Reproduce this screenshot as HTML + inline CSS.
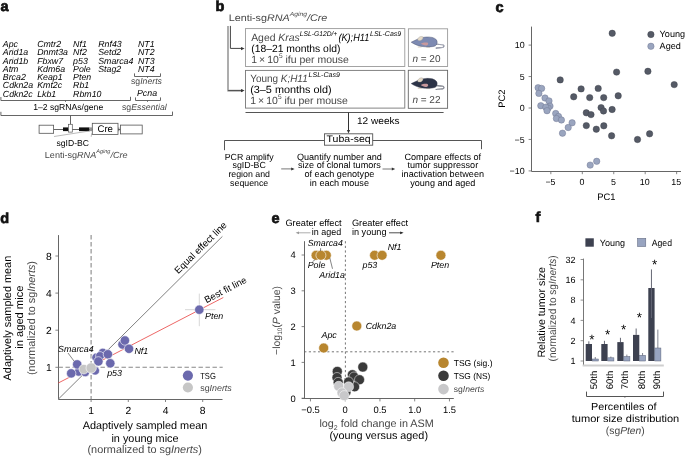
<!DOCTYPE html>
<html><head><meta charset="utf-8"><style>
html,body{margin:0;padding:0;background:#fff;}
svg{display:block;font-family:"Liberation Sans",sans-serif;text-rendering:geometricPrecision;will-change:transform;}
</style></head><body>
<svg width="685" height="456" viewBox="0 0 685 456">
<rect width="685" height="456" fill="#fff"/>
<text x="0.6" y="11" font-size="14.5" font-weight="bold" fill="#111" stroke="#111" stroke-width="0.7">a</text>
<text x="215.5" y="11" font-size="14.5" font-weight="bold" fill="#111" stroke="#111" stroke-width="0.7">b</text>
<text x="495.5" y="12" font-size="14.5" font-weight="bold" fill="#111" stroke="#111" stroke-width="0.7">c</text>
<text x="0.2" y="223" font-size="14.5" font-weight="bold" fill="#111" stroke="#111" stroke-width="0.7">d</text>
<text x="271.5" y="223" font-size="14.5" font-weight="bold" fill="#111" stroke="#111" stroke-width="0.7">e</text>
<text x="535.5" y="222" font-size="14.5" font-weight="bold" fill="#111" stroke="#111" stroke-width="0.7">f</text>
<text x="2.8" y="47" font-size="8.8" font-style="italic">Apc</text>
<text x="2.8" y="55" font-size="8.8" font-style="italic">Arid1a</text>
<text x="2.8" y="64" font-size="8.8" font-style="italic">Arid1b</text>
<text x="2.8" y="72" font-size="8.8" font-style="italic">Atm</text>
<text x="2.8" y="80" font-size="8.8" font-style="italic">Brca2</text>
<text x="2.8" y="88" font-size="8.8" font-style="italic">Cdkn2a</text>
<text x="2.8" y="97" font-size="8.8" font-style="italic">Cdkn2c</text>
<text x="37.2" y="47" font-size="8.8" font-style="italic">Cmtr2</text>
<text x="37.2" y="55" font-size="8.8" font-style="italic">Dnmt3a</text>
<text x="37.2" y="64" font-size="8.8" font-style="italic">Fbxw7</text>
<text x="37.2" y="72" font-size="8.8" font-style="italic">Kdm6a</text>
<text x="37.2" y="80" font-size="8.8" font-style="italic">Keap1</text>
<text x="37.2" y="88" font-size="8.8" font-style="italic">Kmt2c</text>
<text x="37.2" y="97" font-size="8.8" font-style="italic">Lkb1</text>
<text x="73.1" y="47" font-size="8.8" font-style="italic">Nf1</text>
<text x="73.1" y="55" font-size="8.8" font-style="italic">Nf2</text>
<text x="73.1" y="64" font-size="8.8" font-style="italic">p53</text>
<text x="73.1" y="72" font-size="8.8" font-style="italic">Pole</text>
<text x="73.1" y="80" font-size="8.8" font-style="italic">Pten</text>
<text x="73.1" y="88" font-size="8.8" font-style="italic">Rb1</text>
<text x="73.1" y="97" font-size="8.8" font-style="italic">Rbm10</text>
<text x="98.2" y="47" font-size="8.8" font-style="italic">Rnf43</text>
<text x="98.2" y="55" font-size="8.8" font-style="italic">Setd2</text>
<text x="98.2" y="64" font-size="8.8" font-style="italic">Smarca4</text>
<text x="98.2" y="72" font-size="8.8" font-style="italic">Stag2</text>
<text x="138" y="47" font-size="8.8" font-style="italic">NT1</text>
<text x="138" y="55" font-size="8.8" font-style="italic">NT2</text>
<text x="138" y="64" font-size="8.8" font-style="italic">NT3</text>
<text x="138" y="72" font-size="8.8" font-style="italic">NT4</text>
<path d="M134.5,73.4 V76.5 H160.5 V73.4 M147.5,76.5 V77.8" stroke="#555" stroke-width="0.9" fill="none" />
<text x="131" y="84" font-size="8.7" fill="#474747">sg<tspan font-style="italic">Inerts</tspan></text>
<text x="137" y="96" font-size="8.8" font-style="italic">Pcna</text>
<path d="M135.5,97.4 V100.5 H160.5 V97.4 M147.5,100.5 V101.8" stroke="#555" stroke-width="0.9" fill="none" />
<path d="M0.9,97.0 V100.5 H130.5 V96.8 M65.5,100.5 V101.8" stroke="#555" stroke-width="0.9" fill="none" />
<text x="33.2" y="110" font-size="8.6" textLength="70" lengthAdjust="spacingAndGlyphs">1–2 sgRNAs/gene</text>
<text x="122" y="110" font-size="8.7" fill="#474747" textLength="44.7" lengthAdjust="spacingAndGlyphs">sg<tspan font-style="italic">Essential</tspan></text>
<path d="M0.9,111.8 V115.5 H172.5 V111.6 M70.5,115.5 V124.4" stroke="#555" stroke-width="0.9" fill="none" />
<line x1="53.6" y1="129.5" x2="120.4" y2="129.5" stroke="#555" stroke-width="0.9" />
<rect x="39.1" y="125.2" width="14.5" height="8.1" fill="#fff" stroke="#555" stroke-width="0.8"/>
<rect x="120.5" y="125.1" width="21.7" height="8.8" fill="#fff" stroke="#555" stroke-width="0.8"/>
<rect x="63" y="127.4" width="5.5" height="3.7" fill="#111"/>
<rect x="79" y="127.4" width="10.5" height="3.7" fill="#111"/>
<rect x="89.5" y="127.4" width="2.8" height="3.7" fill="#999"/>
<rect x="68.5" y="124.3" width="3.8" height="7.8" fill="#fff" stroke="#555" stroke-width="0.7"/>
<rect x="92.3" y="123.3" width="25.7" height="11.1" fill="#fff" stroke="#555" stroke-width="0.8"/>
<line x1="118.8" y1="127.5" x2="118.8" y2="131.2" stroke="#555" stroke-width="0.8" />
<text x="105.2" y="132" font-size="9.6" text-anchor="middle">Cre</text>
<line x1="54" y1="136.5" x2="90" y2="130.9" stroke="#777" stroke-width="0.5" />
<line x1="91.6" y1="133.4" x2="91.2" y2="136.8" stroke="#777" stroke-width="0.5" />
<text x="56.5" y="146" font-size="8.6" textLength="32.5" lengthAdjust="spacingAndGlyphs">sgID-BC</text>
<text x="44.8" y="158" font-size="8.8" fill="#474747" textLength="82.8" lengthAdjust="spacingAndGlyphs">Lenti-sg<tspan font-style="italic">RNA</tspan><tspan font-style="italic" font-size="5.4" dy="-4.6">Aging</tspan><tspan font-style="italic" dy="4.6">/Cre</tspan></text>
<text x="228.7" y="21" font-size="9.6" fill="#474747" textLength="98.6" lengthAdjust="spacingAndGlyphs">Lenti-sg<tspan font-style="italic">RNA</tspan><tspan font-style="italic" font-size="6" dy="-5">Aging</tspan><tspan font-style="italic" dy="5">/Cre</tspan></text>
<path d="M228.0,25.9 V90.6 H243" stroke="#999" stroke-width="1.6" fill="none" />
<line x1="228.1" y1="90.6" x2="243" y2="90.6" stroke="#444" stroke-width="0.9" />
<path d="M230.4,25.9 V48.4 H243" stroke="#444" stroke-width="1.0" fill="none" />
<path d="M244.6,48.6 l-3.6,-1.6 v3.2 z" fill="#333"/>
<path d="M244.6,90.6 l-3.6,-1.6 v3.2 z" fill="#333"/>
<rect x="245.5" y="28.6" width="159.3" height="37.9" fill="none" stroke="#9a9a9a" stroke-width="0.9"/>
<rect x="245.5" y="70.4" width="159.3" height="37.7" fill="none" stroke="#777" stroke-width="0.9"/>
<rect x="408.4" y="28.8" width="39.2" height="37.7" fill="none" stroke="#9a9a9a" stroke-width="0.9"/>
<rect x="408.3" y="70.3" width="39.3" height="38" fill="none" stroke="#666" stroke-width="0.9"/>
<text x="251.2" y="41" font-size="10.4" fill="#474747">Aged <tspan font-style="italic">Kras</tspan></text>
<text x="299.8" y="36" font-size="6.8" font-style="italic" textLength="37.5" lengthAdjust="spacingAndGlyphs">LSL-G12D/+</text>
<text x="338.4" y="41" font-size="10.4" font-style="italic" textLength="30.9" lengthAdjust="spacingAndGlyphs">(K);H11</text>
<text x="370" y="36" font-size="6.8" font-style="italic" textLength="31.2" lengthAdjust="spacingAndGlyphs">LSL-Cas9</text>
<text x="251.2" y="52" font-size="10.4" textLength="89.2" lengthAdjust="spacingAndGlyphs">(18–21 months old)</text>
<text x="251.2" y="63" font-size="10.4" fill="#474747" textLength="97.7" lengthAdjust="spacingAndGlyphs">1 × 10<tspan font-size="6.5" dy="-5">5</tspan><tspan dy="5"> ifu per mouse</tspan></text>
<text x="250.2" y="82" font-size="10.4" fill="#474747" textLength="57.5" lengthAdjust="spacingAndGlyphs">Young <tspan font-style="italic">K;H11</tspan></text>
<text x="308.6" y="77" font-size="6.8" font-style="italic" textLength="31.2" lengthAdjust="spacingAndGlyphs">LSL-Cas9</text>
<text x="250.2" y="93" font-size="10.4" textLength="81.4" lengthAdjust="spacingAndGlyphs">(3–5 months old)</text>
<text x="250.2" y="104" font-size="10.4" fill="#474747" textLength="97.7" lengthAdjust="spacingAndGlyphs">1 × 10<tspan font-size="6.5" dy="-5">5</tspan><tspan dy="5"> ifu per mouse</tspan></text>
<text x="412.4" y="62" font-size="10" fill="#474747"><tspan font-style="italic">n</tspan> = 20</text>
<text x="412.4" y="103" font-size="10" fill="#474747"><tspan font-style="italic">n</tspan> = 22</text>
<g transform="translate(411.2,42.2)"><path d="M25.2,2.0 C28,2.2 31,2.3 32.3,3.0 C33.2,3.8 32.6,5.2 31.2,5.3 C29,5.5 27,5.4 25,5.9" fill="none" stroke="#4f5570" stroke-width="1.15" stroke-linecap="round"/><path d="M25.2,2.0 C28,2.2 31,2.3 32.3,3.0 C33.2,3.8 32.6,5.2 31.2,5.3 C29,5.5 27,5.4 25,5.9" fill="none" stroke="#f4f4f4" stroke-width="0.55"/><path d="M7,4.8 h3 M15.5,5.0 h3" stroke="#d9cfbd" stroke-width="0.9" fill="none" stroke-linecap="round"/><path d="M0,0 C2,-1.0 4.5,-2.2 6.8,-3.2 C9,-4.2 11.5,-4.9 15,-5.2 C19,-5.4 23,-4.8 25,-2.6 C26.6,-0.8 26.2,2.6 24,3.7 C21,4.9 15.5,4.9 10.8,4.3 C7,3.7 3,2.0 0,0 Z" fill="#7d8ab2" stroke="#4f5570" stroke-width="0.45"/><path d="M6.4,-2.4 C6.6,-4.8 9.5,-6.6 11.6,-5.4 C12.3,-4.4 11.4,-2.2 9.6,-1.7 C8.2,-1.4 7,-1.6 6.4,-2.4 Z" fill="#e4dac8" stroke="#9b9590" stroke-width="0.35"/><path d="M9.6,1.4 C11.5,0.2 15,-0.2 16.6,0.6 C17.4,1.6 17,3.0 15.2,3.3 C13,3.5 11,2.6 9.6,1.4 Z" fill="#c8989c"/></g>
<g transform="translate(411.2,83.6)"><path d="M25.2,2.0 C28,2.2 31,2.3 32.3,3.0 C33.2,3.8 32.6,5.2 31.2,5.3 C29,5.5 27,5.4 25,5.9" fill="none" stroke="#3a3f50" stroke-width="1.15" stroke-linecap="round"/><path d="M25.2,2.0 C28,2.2 31,2.3 32.3,3.0 C33.2,3.8 32.6,5.2 31.2,5.3 C29,5.5 27,5.4 25,5.9" fill="none" stroke="#f4f4f4" stroke-width="0.55"/><path d="M7,4.8 h3 M15.5,5.0 h3" stroke="#d9cfbd" stroke-width="0.9" fill="none" stroke-linecap="round"/><path d="M0,0 C2,-1.0 4.5,-2.2 6.8,-3.2 C9,-4.2 11.5,-4.9 15,-5.2 C19,-5.4 23,-4.8 25,-2.6 C26.6,-0.8 26.2,2.6 24,3.7 C21,4.9 15.5,4.9 10.8,4.3 C7,3.7 3,2.0 0,0 Z" fill="#2c3347" stroke="#3a3f50" stroke-width="0.45"/><path d="M6.4,-2.4 C6.6,-4.8 9.5,-6.6 11.6,-5.4 C12.3,-4.4 11.4,-2.2 9.6,-1.7 C8.2,-1.4 7,-1.6 6.4,-2.4 Z" fill="#e4dac8" stroke="#9b9590" stroke-width="0.35"/><path d="M9.6,1.4 C11.5,0.2 15,-0.2 16.6,0.6 C17.4,1.6 17,3.0 15.2,3.3 C13,3.5 11,2.6 9.6,1.4 Z" fill="#c8989c"/></g>
<line x1="245.5" y1="112.5" x2="443.6" y2="112.5" stroke="#555" stroke-width="1.0" />
<line x1="348.5" y1="112.5" x2="348.5" y2="131.5" stroke="#333" stroke-width="1.0" />
<path d="M348.5,133.6 l-1.6,-3.6 h3.2 z" fill="#333"/>
<text x="357" y="124" font-size="9.6" textLength="42.6" lengthAdjust="spacingAndGlyphs">12 weeks</text>
<path d="M224.5,150.2 V140.5 H481.5 V149.2" stroke="#555" stroke-width="1.0" fill="none" />
<rect x="324.5" y="133.8" width="48.2" height="11.4" fill="#fff" stroke="#555" stroke-width="0.9"/>
<text x="348.6" y="142" font-size="9.6" text-anchor="middle" textLength="44" lengthAdjust="spacingAndGlyphs">Tuba-seq</text>
<text x="249.2" y="160" font-size="8.8" text-anchor="middle">PCR amplify</text>
<text x="249.2" y="168" font-size="8.8" text-anchor="middle">sgID-BC</text>
<text x="249.2" y="177" font-size="8.8" text-anchor="middle">region and</text>
<text x="249.2" y="186" font-size="8.8" text-anchor="middle">sequence</text>
<text x="339.4" y="160" font-size="9.1" text-anchor="middle">Quantify number and</text>
<text x="339.4" y="168" font-size="9.1" text-anchor="middle">size of clonal tumors</text>
<text x="339.4" y="177" font-size="9.1" text-anchor="middle">of each genotype</text>
<text x="339.4" y="186" font-size="9.1" text-anchor="middle">in each mouse</text>
<text x="442.8" y="160" font-size="9.1" text-anchor="middle">Compare effects of</text>
<text x="442.8" y="168" font-size="9.1" text-anchor="middle">tumor suppressor</text>
<text x="442.8" y="177" font-size="9.1" text-anchor="middle">inactivation between</text>
<text x="442.8" y="186" font-size="9.1" text-anchor="middle">young and aged</text>
<line x1="281.2" y1="168.9" x2="292" y2="168.9" stroke="#555" stroke-width="0.8" />
<path d="M294.6,168.9 l-3.4,-1.5 v3 z" fill="#333"/>
<line x1="382.5" y1="169" x2="392.5" y2="169" stroke="#555" stroke-width="0.8" />
<path d="M395.2,169 l-3.4,-1.5 v3 z" fill="#333"/>
<line x1="531.5" y1="26.6" x2="531.5" y2="171.5" stroke="#666" stroke-width="1.0" />
<line x1="531.5" y1="171.5" x2="681" y2="171.5" stroke="#666" stroke-width="1.0" />
<line x1="528.6" y1="170.9" x2="531.4" y2="170.9" stroke="#666" stroke-width="0.8" />
<text x="524.6" y="174" font-size="8.9" text-anchor="end">−10</text>
<line x1="528.6" y1="139.45" x2="531.4" y2="139.45" stroke="#666" stroke-width="0.8" />
<text x="524.6" y="143" font-size="8.9" text-anchor="end">−5</text>
<line x1="528.6" y1="108.0" x2="531.4" y2="108.0" stroke="#666" stroke-width="0.8" />
<text x="524.6" y="111" font-size="8.9" text-anchor="end">0</text>
<line x1="528.6" y1="76.55" x2="531.4" y2="76.55" stroke="#666" stroke-width="0.8" />
<text x="524.6" y="80" font-size="8.9" text-anchor="end">5</text>
<line x1="528.6" y1="45.1" x2="531.4" y2="45.1" stroke="#666" stroke-width="0.8" />
<text x="524.6" y="48" font-size="8.9" text-anchor="end">10</text>
<line x1="550.8499999999999" y1="171.2" x2="550.8499999999999" y2="174.2" stroke="#666" stroke-width="0.8" />
<text x="550.4499999999999" y="185" font-size="8.9" text-anchor="middle">−5</text>
<line x1="582.3" y1="171.2" x2="582.3" y2="174.2" stroke="#666" stroke-width="0.8" />
<text x="581.9" y="185" font-size="8.9" text-anchor="middle">0</text>
<line x1="613.75" y1="171.2" x2="613.75" y2="174.2" stroke="#666" stroke-width="0.8" />
<text x="613.35" y="185" font-size="8.9" text-anchor="middle">5</text>
<line x1="645.1999999999999" y1="171.2" x2="645.1999999999999" y2="174.2" stroke="#666" stroke-width="0.8" />
<text x="644.8" y="185" font-size="8.9" text-anchor="middle">10</text>
<line x1="676.65" y1="171.2" x2="676.65" y2="174.2" stroke="#666" stroke-width="0.8" />
<text x="676.25" y="185" font-size="8.9" text-anchor="middle">15</text>
<text x="606.4" y="200" font-size="9.4" text-anchor="middle">PC1</text>
<text x="0" y="0" font-size="9.4" text-anchor="middle" transform="translate(504.8,98.7) rotate(-90)">PC2</text>
<circle cx="538.1" cy="87.7" r="3.2" fill="#9aa5bf" stroke="#6d7590" stroke-width="0.45"/>
<circle cx="541.6" cy="88.4" r="3.2" fill="#9aa5bf" stroke="#6d7590" stroke-width="0.45"/>
<circle cx="538.9" cy="93.4" r="3.2" fill="#9aa5bf" stroke="#6d7590" stroke-width="0.45"/>
<circle cx="545" cy="98" r="3.2" fill="#9aa5bf" stroke="#6d7590" stroke-width="0.45"/>
<circle cx="549" cy="100.9" r="3.2" fill="#9aa5bf" stroke="#6d7590" stroke-width="0.45"/>
<circle cx="540.8" cy="105.7" r="3.2" fill="#9aa5bf" stroke="#6d7590" stroke-width="0.45"/>
<circle cx="550" cy="106.1" r="3.2" fill="#9aa5bf" stroke="#6d7590" stroke-width="0.45"/>
<circle cx="548.1" cy="108" r="3.2" fill="#9aa5bf" stroke="#6d7590" stroke-width="0.45"/>
<circle cx="545.8" cy="107.2" r="3.2" fill="#9aa5bf" stroke="#6d7590" stroke-width="0.45"/>
<circle cx="547" cy="110.7" r="3.2" fill="#9aa5bf" stroke="#6d7590" stroke-width="0.45"/>
<circle cx="555.7" cy="113.5" r="3.2" fill="#9aa5bf" stroke="#6d7590" stroke-width="0.45"/>
<circle cx="558.5" cy="116.4" r="3.2" fill="#9aa5bf" stroke="#6d7590" stroke-width="0.45"/>
<circle cx="556.4" cy="118.5" r="3.2" fill="#9aa5bf" stroke="#6d7590" stroke-width="0.45"/>
<circle cx="561.4" cy="120" r="3.2" fill="#9aa5bf" stroke="#6d7590" stroke-width="0.45"/>
<circle cx="572.1" cy="122.8" r="3.2" fill="#9aa5bf" stroke="#6d7590" stroke-width="0.45"/>
<circle cx="568.2" cy="127.5" r="3.2" fill="#9aa5bf" stroke="#6d7590" stroke-width="0.45"/>
<circle cx="562.5" cy="133.2" r="3.2" fill="#9aa5bf" stroke="#6d7590" stroke-width="0.45"/>
<circle cx="590.2" cy="165.1" r="3.2" fill="#9aa5bf" stroke="#6d7590" stroke-width="0.45"/>
<circle cx="596.7" cy="161.3" r="3.2" fill="#9aa5bf" stroke="#6d7590" stroke-width="0.45"/>
<circle cx="612.2" cy="33.3" r="3.2" fill="#555a66" stroke="#3d414a" stroke-width="0.45"/>
<circle cx="616.6" cy="72.1" r="3.2" fill="#555a66" stroke="#3d414a" stroke-width="0.45"/>
<circle cx="647.9" cy="71.3" r="3.2" fill="#555a66" stroke="#3d414a" stroke-width="0.45"/>
<circle cx="674.2" cy="84.6" r="3.2" fill="#555a66" stroke="#3d414a" stroke-width="0.45"/>
<circle cx="560.2" cy="79.9" r="3.2" fill="#555a66" stroke="#3d414a" stroke-width="0.45"/>
<circle cx="581.1" cy="88.9" r="3.2" fill="#555a66" stroke="#3d414a" stroke-width="0.45"/>
<circle cx="598.2" cy="88.4" r="3.2" fill="#555a66" stroke="#3d414a" stroke-width="0.45"/>
<circle cx="573.7" cy="96.8" r="3.2" fill="#555a66" stroke="#3d414a" stroke-width="0.45"/>
<circle cx="589.7" cy="97.6" r="3.2" fill="#555a66" stroke="#3d414a" stroke-width="0.45"/>
<circle cx="603.7" cy="97.6" r="3.2" fill="#555a66" stroke="#3d414a" stroke-width="0.45"/>
<circle cx="618.2" cy="95.8" r="3.2" fill="#555a66" stroke="#3d414a" stroke-width="0.45"/>
<circle cx="601.1" cy="107.6" r="3.2" fill="#555a66" stroke="#3d414a" stroke-width="0.45"/>
<circle cx="603.5" cy="111" r="3.2" fill="#555a66" stroke="#3d414a" stroke-width="0.45"/>
<circle cx="612.1" cy="109.5" r="3.2" fill="#555a66" stroke="#3d414a" stroke-width="0.45"/>
<circle cx="586.3" cy="112.8" r="3.2" fill="#555a66" stroke="#3d414a" stroke-width="0.45"/>
<circle cx="591" cy="114.6" r="3.2" fill="#555a66" stroke="#3d414a" stroke-width="0.45"/>
<circle cx="586.3" cy="125.6" r="3.2" fill="#555a66" stroke="#3d414a" stroke-width="0.45"/>
<circle cx="596.3" cy="129.2" r="3.2" fill="#555a66" stroke="#3d414a" stroke-width="0.45"/>
<circle cx="603.8" cy="125.8" r="3.2" fill="#555a66" stroke="#3d414a" stroke-width="0.45"/>
<circle cx="611.6" cy="135.8" r="3.2" fill="#555a66" stroke="#3d414a" stroke-width="0.45"/>
<circle cx="637.5" cy="139.5" r="3.2" fill="#555a66" stroke="#3d414a" stroke-width="0.45"/>
<circle cx="649.6" cy="133.8" r="3.2" fill="#555a66" stroke="#3d414a" stroke-width="0.45"/>
<circle cx="650.9" cy="34.5" r="3.2" fill="#555a66" stroke="#3d414a" stroke-width="0.45"/>
<circle cx="650.9" cy="46.3" r="3.2" fill="#9aa5bf" stroke="#6d7590" stroke-width="0.45"/>
<text x="659.6" y="37" font-size="9.1">Young</text>
<text x="659.6" y="49" font-size="9.1">Aged</text>
<line x1="58.5" y1="235.1" x2="58.5" y2="399.5" stroke="#666" stroke-width="1.0" />
<line x1="58.5" y1="399.5" x2="222.5" y2="399.5" stroke="#666" stroke-width="1.0" />
<line x1="55.4" y1="367.3" x2="58.3" y2="367.3" stroke="#666" stroke-width="0.8" />
<text x="51.8" y="371" font-size="10.3" text-anchor="end">1</text>
<line x1="91.1" y1="399.2" x2="91.1" y2="402" stroke="#666" stroke-width="0.8" />
<text x="91.1" y="414" font-size="10.3" text-anchor="middle">1</text>
<line x1="55.4" y1="330.2" x2="58.3" y2="330.2" stroke="#666" stroke-width="0.8" />
<text x="51.8" y="334" font-size="10.3" text-anchor="end">2</text>
<line x1="128.3" y1="399.2" x2="128.3" y2="402" stroke="#666" stroke-width="0.8" />
<text x="128.3" y="414" font-size="10.3" text-anchor="middle">2</text>
<line x1="55.4" y1="293.1" x2="58.3" y2="293.1" stroke="#666" stroke-width="0.8" />
<text x="51.8" y="297" font-size="10.3" text-anchor="end">4</text>
<line x1="165.5" y1="399.2" x2="165.5" y2="402" stroke="#666" stroke-width="0.8" />
<text x="165.5" y="414" font-size="10.3" text-anchor="middle">4</text>
<line x1="55.4" y1="256.0" x2="58.3" y2="256.0" stroke="#666" stroke-width="0.8" />
<text x="51.8" y="260" font-size="10.3" text-anchor="end">8</text>
<line x1="202.7" y1="399.2" x2="202.7" y2="402" stroke="#666" stroke-width="0.8" />
<text x="202.7" y="414" font-size="10.3" text-anchor="middle">8</text>
<line x1="91.1" y1="235.1" x2="91.1" y2="399.2" stroke="#888" stroke-width="1.1" stroke-dasharray="4.4,2.6"/>
<line x1="58.5" y1="367.3" x2="222.7" y2="367.3" stroke="#888" stroke-width="1.1" stroke-dasharray="4.4,2.6"/>
<line x1="58.3" y1="399.2" x2="222.4" y2="236.4" stroke="#808080" stroke-width="1.0" />
<line x1="58.3" y1="383.0" x2="223.3" y2="297.5" stroke="#e8403f" stroke-width="0.8" />
<text x="0" y="0" font-size="9.6" textLength="69" lengthAdjust="spacingAndGlyphs" transform="translate(178.3,274.2) rotate(-44.6)">Equal effect line</text>
<text x="0" y="0" font-size="9.4" textLength="46" lengthAdjust="spacingAndGlyphs" transform="translate(206.5,303.3) rotate(-27.6)">Best fit line</text>
<line x1="185" y1="309.7" x2="215.4" y2="309.7" stroke="#d2d2d2" stroke-width="0.9" />
<line x1="199.3" y1="293.6" x2="199.3" y2="326.2" stroke="#d2d2d2" stroke-width="0.9" />
<circle cx="78.6" cy="371.8" r="4.4" fill="#6b69ad" stroke="#fff" stroke-width="0.6"/>
<circle cx="85.2" cy="372.3" r="4.4" fill="#6b69ad" stroke="#fff" stroke-width="0.6"/>
<circle cx="95.1" cy="370.7" r="4.4" fill="#6b69ad" stroke="#fff" stroke-width="0.6"/>
<circle cx="96.2" cy="357.5" r="4.4" fill="#6b69ad" stroke="#fff" stroke-width="0.6"/>
<circle cx="102.8" cy="352.6" r="4.4" fill="#6b69ad" stroke="#fff" stroke-width="0.6"/>
<circle cx="100" cy="356" r="4.4" fill="#6b69ad" stroke="#fff" stroke-width="0.6"/>
<circle cx="98.4" cy="361.4" r="4.7" fill="#6b69ad" stroke="#fff" stroke-width="0.6"/>
<circle cx="107.9" cy="354.3" r="4.7" fill="#6b69ad" stroke="#fff" stroke-width="0.6"/>
<circle cx="110.3" cy="363.3" r="4.7" fill="#6b69ad" stroke="#fff" stroke-width="0.6"/>
<circle cx="77.2" cy="364.4" r="4.7" fill="#6b69ad" stroke="#fff" stroke-width="0.6"/>
<circle cx="71.2" cy="373.4" r="4.7" fill="#6b69ad" stroke="#fff" stroke-width="0.6"/>
<circle cx="122.5" cy="344.5" r="4.7" fill="#6b69ad" stroke="#fff" stroke-width="0.6"/>
<circle cx="124.9" cy="340.5" r="4.7" fill="#6b69ad" stroke="#fff" stroke-width="0.6"/>
<circle cx="129" cy="348.8" r="4.7" fill="#6b69ad" stroke="#fff" stroke-width="0.6"/>
<circle cx="199.3" cy="309.7" r="4.7" fill="#6b69ad" stroke="#fff" stroke-width="0.6"/>
<circle cx="83.8" cy="369.2" r="4.8" fill="#c6c6c6" stroke="#fff" stroke-width="0.6"/>
<circle cx="91.2" cy="368" r="5.2" fill="#c6c6c6" stroke="#fff" stroke-width="0.6"/>
<line x1="68" y1="353" x2="74.2" y2="361.3" stroke="#333" stroke-width="0.6" />
<text x="58.1" y="352" font-size="8.9" font-style="italic" textLength="35.6" lengthAdjust="spacingAndGlyphs">Smarca4</text>
<text x="134.4" y="354" font-size="8.9" font-style="italic">Nf1</text>
<text x="107.2" y="376" font-size="8.9" font-style="italic">p53</text>
<text x="205" y="319" font-size="8.9" font-style="italic">Pten</text>
<circle cx="187.9" cy="375.6" r="5.1" fill="#6b69ad" stroke="none" stroke-width="0.5"/>
<circle cx="187.9" cy="387.5" r="5.1" fill="#c6c6c6" stroke="none" stroke-width="0.5"/>
<text x="200.2" y="379" font-size="8.9" textLength="15.6" lengthAdjust="spacingAndGlyphs">TSG</text>
<text x="200.2" y="391" font-size="8.9" fill="#474747">sg<tspan font-style="italic">Inerts</tspan></text>
<text x="145" y="429" font-size="10.9" text-anchor="middle">Adaptively sampled mean</text>
<text x="145" y="442" font-size="10.9" text-anchor="middle">in young mice</text>
<text x="144.7" y="453" font-size="10.9" text-anchor="middle" fill="#474747">(normalized to sg<tspan font-style="italic">Inerts</tspan>)</text>
<text x="0" y="0" font-size="10.9" text-anchor="middle" textLength="124.6" lengthAdjust="spacingAndGlyphs" transform="translate(10.9,318.1) rotate(-90)">Adaptively sampled mean</text>
<text x="0" y="0" font-size="10.9" text-anchor="middle" textLength="63.2" lengthAdjust="spacingAndGlyphs" transform="translate(22.7,317.2) rotate(-90)">in aged mice</text>
<text x="0" y="0" font-size="10.9" text-anchor="middle" fill="#474747" textLength="114" lengthAdjust="spacingAndGlyphs" transform="translate(34.5,318) rotate(-90)">(normalized to sg<tspan font-style="italic">Inerts</tspan>)</text>
<line x1="304.5" y1="241.2" x2="304.5" y2="398.5" stroke="#666" stroke-width="1.0" />
<line x1="301.8" y1="398.5" x2="453.8" y2="398.5" stroke="#666" stroke-width="1.0" />
<line x1="301.6" y1="398.2" x2="304.2" y2="398.2" stroke="#666" stroke-width="0.8" />
<text x="295.6" y="402" font-size="9.4" text-anchor="end">0</text>
<line x1="301.6" y1="362.4" x2="304.2" y2="362.4" stroke="#666" stroke-width="0.8" />
<text x="295.6" y="366" font-size="9.4" text-anchor="end">1</text>
<line x1="301.6" y1="326.6" x2="304.2" y2="326.6" stroke="#666" stroke-width="0.8" />
<text x="295.6" y="330" font-size="9.4" text-anchor="end">2</text>
<line x1="301.6" y1="290.8" x2="304.2" y2="290.8" stroke="#666" stroke-width="0.8" />
<text x="295.6" y="294" font-size="9.4" text-anchor="end">3</text>
<line x1="301.6" y1="255.0" x2="304.2" y2="255.0" stroke="#666" stroke-width="0.8" />
<text x="295.6" y="258" font-size="9.4" text-anchor="end">4</text>
<line x1="310.45" y1="398.6" x2="310.45" y2="401.4" stroke="#666" stroke-width="0.8" />
<text x="310.45" y="413" font-size="9.4" text-anchor="middle">−0.5</text>
<line x1="345.2" y1="398.6" x2="345.2" y2="401.4" stroke="#666" stroke-width="0.8" />
<text x="345.2" y="413" font-size="9.4" text-anchor="middle">0</text>
<line x1="379.95" y1="398.6" x2="379.95" y2="401.4" stroke="#666" stroke-width="0.8" />
<text x="379.95" y="413" font-size="9.4" text-anchor="middle">0.5</text>
<line x1="414.7" y1="398.6" x2="414.7" y2="401.4" stroke="#666" stroke-width="0.8" />
<text x="414.7" y="413" font-size="9.4" text-anchor="middle">1.0</text>
<line x1="449.45" y1="398.6" x2="449.45" y2="401.4" stroke="#666" stroke-width="0.8" />
<text x="449.45" y="413" font-size="9.4" text-anchor="middle">1.5</text>
<line x1="345.4" y1="241.2" x2="345.4" y2="398.6" stroke="#666" stroke-width="0.9" stroke-dasharray="2.2,2.4"/>
<line x1="304.2" y1="351.8" x2="453.8" y2="351.8" stroke="#666" stroke-width="0.9" stroke-dasharray="2.2,2.4"/>
<text x="285.4" y="226" font-size="9.3" textLength="56.2" lengthAdjust="spacingAndGlyphs">Greater effect</text>
<text x="311.8" y="235" font-size="9.3" textLength="29.4" lengthAdjust="spacingAndGlyphs">in aged</text>
<line x1="298" y1="232.8" x2="310.5" y2="232.8" stroke="#999" stroke-width="0.8" />
<path d="M295.6,232.8 l3.4,-1.4 v2.8 z" fill="#999"/>
<text x="351.9" y="226" font-size="9.3" textLength="56.2" lengthAdjust="spacingAndGlyphs">Greater effect</text>
<text x="351.9" y="235" font-size="9.3" textLength="34.6" lengthAdjust="spacingAndGlyphs">in young</text>
<line x1="389" y1="232.8" x2="401" y2="232.8" stroke="#222" stroke-width="0.8" />
<path d="M403.6,232.8 l-3.4,-1.4 v2.8 z" fill="#222"/>
<circle cx="337.3" cy="371.4" r="5.0" fill="#3a3a3a" stroke="#fff" stroke-width="0.5"/>
<circle cx="362.8" cy="367.1" r="5.0" fill="#3a3a3a" stroke="#fff" stroke-width="0.5"/>
<circle cx="337.0" cy="377.5" r="5.0" fill="#3a3a3a" stroke="#fff" stroke-width="0.5"/>
<circle cx="352.4" cy="374.7" r="5.0" fill="#3a3a3a" stroke="#fff" stroke-width="0.5"/>
<circle cx="354.0" cy="377.0" r="5.0" fill="#3a3a3a" stroke="#fff" stroke-width="0.5"/>
<circle cx="359.5" cy="379.7" r="5.0" fill="#3a3a3a" stroke="#fff" stroke-width="0.5"/>
<circle cx="354.6" cy="386.8" r="5.0" fill="#3a3a3a" stroke="#fff" stroke-width="0.5"/>
<circle cx="348.6" cy="381.9" r="5.0" fill="#3a3a3a" stroke="#fff" stroke-width="0.5"/>
<circle cx="338.2" cy="382.4" r="5.0" fill="#3a3a3a" stroke="#fff" stroke-width="0.5"/>
<circle cx="346" cy="392" r="5.0" fill="#3a3a3a" stroke="#fff" stroke-width="0.5"/>
<circle cx="338.7" cy="386.3" r="5.0" fill="#c8c8ca" stroke="#fff" stroke-width="0.5"/>
<circle cx="348.6" cy="386.8" r="5.0" fill="#c8c8ca" stroke="#fff" stroke-width="0.5"/>
<circle cx="342.0" cy="392.8" r="5.0" fill="#c8c8ca" stroke="#fff" stroke-width="0.5"/>
<circle cx="344.2" cy="395.6" r="5.0" fill="#c8c8ca" stroke="#fff" stroke-width="0.5"/>
<circle cx="316.1" cy="255.3" r="5.0" fill="#b8862f" stroke="#fff" stroke-width="0.6"/>
<circle cx="326.3" cy="255.3" r="5.0" fill="#b8862f" stroke="#fff" stroke-width="0.6"/>
<circle cx="320.9" cy="255.3" r="5.0" fill="#b8862f" stroke="#fff" stroke-width="0.6"/>
<circle cx="374.6" cy="255.3" r="5.0" fill="#b8862f" stroke="#fff" stroke-width="0.6"/>
<circle cx="382.1" cy="255.3" r="5.0" fill="#b8862f" stroke="#fff" stroke-width="0.6"/>
<circle cx="440.9" cy="255.3" r="5.0" fill="#b8862f" stroke="#fff" stroke-width="0.6"/>
<circle cx="356.8" cy="326" r="5.0" fill="#b8862f" stroke="#fff" stroke-width="0.6"/>
<circle cx="323.7" cy="348" r="5.0" fill="#b8862f" stroke="#fff" stroke-width="0.6"/>
<text x="307.7" y="246" font-size="8.9" font-style="italic" textLength="35.1" lengthAdjust="spacingAndGlyphs">Smarca4</text>
<line x1="320.6" y1="248.2" x2="320.6" y2="251" stroke="#333" stroke-width="0.6" />
<text x="307.7" y="268" font-size="8.9" font-style="italic">Pole</text>
<line x1="312.6" y1="261.6" x2="315.3" y2="259.5" stroke="#333" stroke-width="0.6" />
<text x="319.3" y="278" font-size="8.9" font-style="italic">Arid1a</text>
<line x1="329.8" y1="258" x2="332.5" y2="268.8" stroke="#333" stroke-width="0.6" />
<text x="387.7" y="250" font-size="8.9" font-style="italic">Nf1</text>
<text x="362.5" y="268" font-size="8.9" font-style="italic">p53</text>
<text x="430.9" y="268" font-size="8.9" font-style="italic">Pten</text>
<text x="321.5" y="338" font-size="8.9" font-style="italic">Apc</text>
<text x="365.7" y="329" font-size="8.9" font-style="italic">Cdkn2a</text>
<circle cx="443.5" cy="362.7" r="5.3" fill="#b8862f" stroke="none" stroke-width="0.5"/>
<circle cx="443.5" cy="375.8" r="5.3" fill="#3a3a3a" stroke="none" stroke-width="0.5"/>
<circle cx="443.5" cy="389.1" r="5.3" fill="#c8c8ca" stroke="none" stroke-width="0.5"/>
<text x="453.7" y="366" font-size="8.6" textLength="38.8" lengthAdjust="spacingAndGlyphs">TSG (sig.)</text>
<text x="453.7" y="379" font-size="8.6" textLength="36.6" lengthAdjust="spacingAndGlyphs">TSG (NS)</text>
<text x="453.7" y="392" font-size="8.6" fill="#474747">sg<tspan font-style="italic">Inerts</tspan></text>
<text x="319.4" y="427" font-size="10.8" fill="#474747">log<tspan font-size="7" dy="2.6">2</tspan><tspan dy="-2.6"> fold change in ASM</tspan></text>
<text x="378.7" y="439" font-size="10.8" text-anchor="middle" textLength="98.6" lengthAdjust="spacingAndGlyphs">(young versus aged)</text>
<text x="0" y="0" font-size="10.5" text-anchor="middle" fill="#474747" textLength="69" lengthAdjust="spacingAndGlyphs" transform="translate(280,320.4) rotate(-90)">−log<tspan font-size="6.5" dy="2.2">10</tspan><tspan dy="-2.2">(</tspan><tspan font-style="italic">P</tspan> value)</text>
<line x1="583.5" y1="258.6" x2="583.5" y2="365.4" stroke="#777" stroke-width="1.0" />
<line x1="582.6" y1="365.5" x2="663.8" y2="365.5" stroke="#cfcfcf" stroke-width="1.8" />
<line x1="580.6" y1="361.0" x2="583.8" y2="361.0" stroke="#777" stroke-width="0.8" />
<text x="575.6" y="364" font-size="9.0" text-anchor="end">1</text>
<line x1="580.6" y1="340.7" x2="583.8" y2="340.7" stroke="#777" stroke-width="0.8" />
<text x="575.6" y="344" font-size="9.0" text-anchor="end">2</text>
<line x1="580.6" y1="320.4" x2="583.8" y2="320.4" stroke="#777" stroke-width="0.8" />
<text x="575.6" y="324" font-size="9.0" text-anchor="end">4</text>
<line x1="580.6" y1="300.1" x2="583.8" y2="300.1" stroke="#777" stroke-width="0.8" />
<text x="575.6" y="303" font-size="9.0" text-anchor="end">8</text>
<line x1="580.6" y1="279.8" x2="583.8" y2="279.8" stroke="#777" stroke-width="0.8" />
<text x="575.6" y="283" font-size="9.0" text-anchor="end">16</text>
<line x1="580.6" y1="259.5" x2="583.8" y2="259.5" stroke="#777" stroke-width="0.8" />
<text x="575.6" y="263" font-size="9.0" text-anchor="end">32</text>
<rect x="585.7" y="344" width="6.3" height="17" fill="#3d4150"/>
<rect x="592.2" y="359" width="6.1" height="2" fill="#98a4c0" stroke="#5b6379" stroke-width="0.5"/>
<line x1="588.85" y1="341.3" x2="588.85" y2="344" stroke="#3d4150" stroke-width="0.8" />
<line x1="595.25" y1="357" x2="595.25" y2="359" stroke="#4a5062" stroke-width="0.7" />
<text x="592.0" y="344" font-size="13.5" text-anchor="middle">*</text>
<rect x="601.3" y="344" width="6.3" height="17" fill="#3d4150"/>
<rect x="607.8" y="357.8" width="6.1" height="3.1999999999999886" fill="#98a4c0" stroke="#5b6379" stroke-width="0.5"/>
<line x1="604.4499999999999" y1="340.8" x2="604.4499999999999" y2="344" stroke="#3d4150" stroke-width="0.8" />
<line x1="610.8499999999999" y1="356.5" x2="610.8499999999999" y2="357.8" stroke="#4a5062" stroke-width="0.7" />
<text x="607.5999999999999" y="339" font-size="13.5" text-anchor="middle">*</text>
<rect x="617.3" y="342.1" width="6.3" height="18.899999999999977" fill="#3d4150"/>
<rect x="623.8" y="356.5" width="6.1" height="4.5" fill="#98a4c0" stroke="#5b6379" stroke-width="0.5"/>
<line x1="620.4499999999999" y1="337.8" x2="620.4499999999999" y2="342.1" stroke="#3d4150" stroke-width="0.8" />
<line x1="626.8499999999999" y1="354.6" x2="626.8499999999999" y2="356.5" stroke="#4a5062" stroke-width="0.7" />
<text x="623.5999999999999" y="334" font-size="13.5" text-anchor="middle">*</text>
<rect x="633.0" y="334.9" width="6.3" height="26.100000000000023" fill="#3d4150"/>
<rect x="639.5" y="355.3" width="6.1" height="5.699999999999989" fill="#98a4c0" stroke="#5b6379" stroke-width="0.5"/>
<line x1="636.15" y1="328.5" x2="636.15" y2="334.9" stroke="#3d4150" stroke-width="0.8" />
<line x1="642.55" y1="353" x2="642.55" y2="355.3" stroke="#4a5062" stroke-width="0.7" />
<text x="639.3" y="322" font-size="13.5" text-anchor="middle">*</text>
<rect x="648.3" y="288" width="6.3" height="73" fill="#3d4150"/>
<rect x="654.8" y="348" width="6.1" height="13" fill="#98a4c0" stroke="#5b6379" stroke-width="0.5"/>
<line x1="651.4499999999999" y1="269.4" x2="651.4499999999999" y2="304.74" stroke="#3d4150" stroke-width="0.8" />
<line x1="657.8499999999999" y1="329.6" x2="657.8499999999999" y2="348" stroke="#4a5062" stroke-width="0.7" />
<text x="654.5999999999999" y="269" font-size="13.5" text-anchor="middle">*</text>
<line x1="651.45" y1="288" x2="651.45" y2="318" stroke="#6b6f7c" stroke-width="0.8" />
<text x="0" y="0" font-size="9.6" text-anchor="middle" transform="translate(596.8,380) rotate(-90)">50th</text>
<text x="0" y="0" font-size="9.6" text-anchor="middle" transform="translate(612.6,380) rotate(-90)">60th</text>
<text x="0" y="0" font-size="9.6" text-anchor="middle" transform="translate(628.4,380) rotate(-90)">70th</text>
<text x="0" y="0" font-size="9.6" text-anchor="middle" transform="translate(644.6,380) rotate(-90)">80th</text>
<text x="0" y="0" font-size="9.6" text-anchor="middle" transform="translate(660.0,380) rotate(-90)">90th</text>
<path d="M586.5,391.6 V396.5 H663.5 V391.6 M624.9,396.5 V397.6" stroke="#555" stroke-width="1.0" fill="none" />
<text x="623.7" y="410" font-size="10.3" text-anchor="middle" textLength="65.4" lengthAdjust="spacingAndGlyphs">Percentiles of</text>
<text x="625.5" y="422" font-size="10.3" text-anchor="middle" textLength="107.5" lengthAdjust="spacingAndGlyphs">tumor size distribution</text>
<text x="625.3" y="434" font-size="10.3" text-anchor="middle" fill="#474747">(sg<tspan font-style="italic">Pten</tspan>)</text>
<rect x="585.4" y="238.3" width="8.4" height="8.4" fill="#3d4150"/>
<rect x="637.5" y="238.3" width="8.3" height="8.3" fill="#98a4c0" stroke="#5b6379" stroke-width="0.5"/>
<text x="599.7" y="246" font-size="9.2" textLength="25.3" lengthAdjust="spacingAndGlyphs">Young</text>
<text x="651.7" y="246" font-size="9.2" textLength="20.3" lengthAdjust="spacingAndGlyphs">Aged</text>
<text x="0" y="0" font-size="10.6" text-anchor="middle" textLength="90.6" lengthAdjust="spacingAndGlyphs" transform="translate(544.9,312.3) rotate(-90)">Relative tumor size</text>
<text x="0" y="0" font-size="10.6" text-anchor="middle" fill="#474747" textLength="106" lengthAdjust="spacingAndGlyphs" transform="translate(556.4,308.4) rotate(-90)">(normalized to sg<tspan font-style="italic">Inerts</tspan>)</text>
</svg></body></html>
